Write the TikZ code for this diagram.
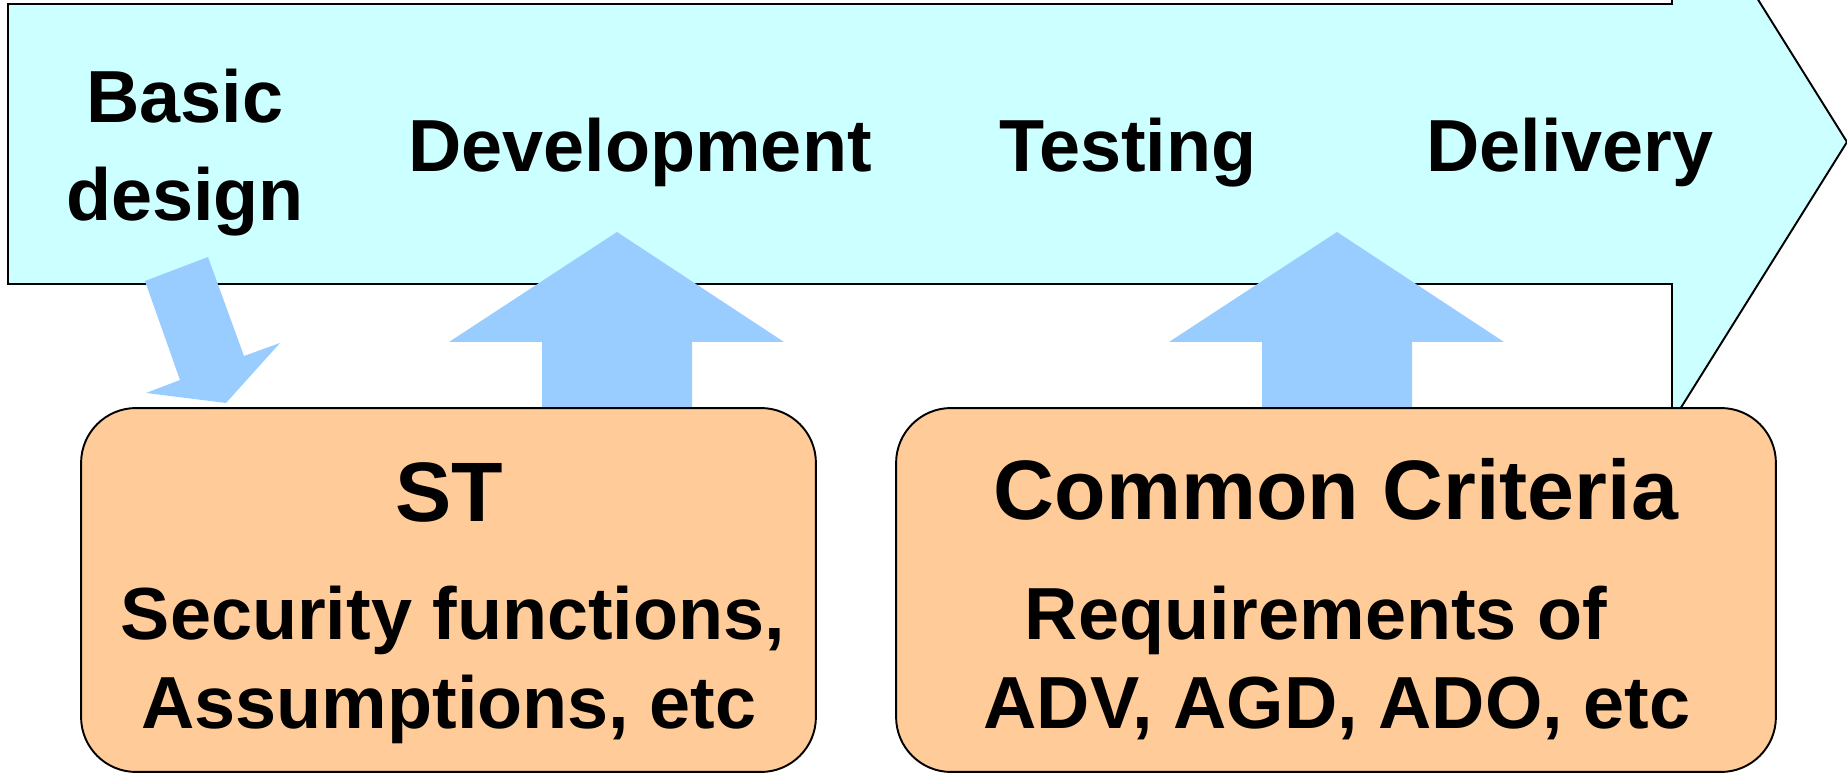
\documentclass[tikz,border=0pt]{standalone}
\usepackage{fontspec}
\setmainfont{Liberation Sans}
\definecolor{flowcyan}{HTML}{CCFFFF}
\definecolor{pushblue}{HTML}{99CCFF}
\definecolor{boxorange}{HTML}{FFCC99}
\tikzset{
  stage/.style={anchor=base, inner sep=0pt, font=\fontsize{42}{50}\selectfont\bfseries},
  boxhead/.style={anchor=base, inner sep=0pt, font=\fontsize{48}{56}\selectfont\bfseries},
  panel/.style={draw, line width=1.1pt, fill=boxorange, rounded corners=1.1cm},
  push/.style={fill=pushblue, draw=none}
}

\begin{document}
\begin{tikzpicture}[line join=miter, x=0.02cm, y=-0.02cm]
\useasboundingbox (0,0) rectangle (1847,773);
\clip (0,0) rectangle (1847,773);
% process arrow
\draw [line width=1.1pt, fill=flowcyan] (8,4) -- (1672,4) -- (1672,-138) -- (1847,142) -- (1672,422) -- (1672,284) -- (8,284) -- cycle;
% blue arrows
\fill [push] (145,281) -- (208,257) -- (244,356) -- (280,343) -- (226,403) -- (146,393) -- (180,380) -- cycle;
\fill [push] (542,412) -- (542,342) -- (449,342) -- (617,232) -- (784,342) -- (692,342) -- (692,412) -- cycle;
\fill [push] (1262,412) -- (1262,342) -- (1169,342) -- (1337,232) -- (1504,342) -- (1412,342) -- (1412,412) -- cycle;
% panels
\node (stpanel) [panel, minimum width=14.7cm, minimum height=7.28cm] at (448.5,590) {};
\node (ccpanel) [panel, minimum width=17.6cm, minimum height=7.28cm] at (1336,590) {};
% stage labels
\node (basic) [stage] at (185,123) {Basic};
\node (design) [stage] at (185,221) {design};
\node (devel) [stage] at (640,172) {Development};
\node (testing) [stage] at (1128,172) {Testing};
\node (delivery) [stage] at (1570,172) {Delivery};
% panel texts
\node (sttitle) [boxhead] at (449,521) {ST};
\node (cctitle) [boxhead] at (1336,520) {Common Criteria};
\node (stline1) [stage] at (453,640) {Security functions,};
\node (stline2) [stage] at (449,728) {Assumptions, etc};
\node (ccline1) [stage] at (1316,640) {Requirements of};
\node (ccline2) [stage] at (1337,728) {ADV, AGD, ADO, etc};
\end{tikzpicture}
\end{document}
